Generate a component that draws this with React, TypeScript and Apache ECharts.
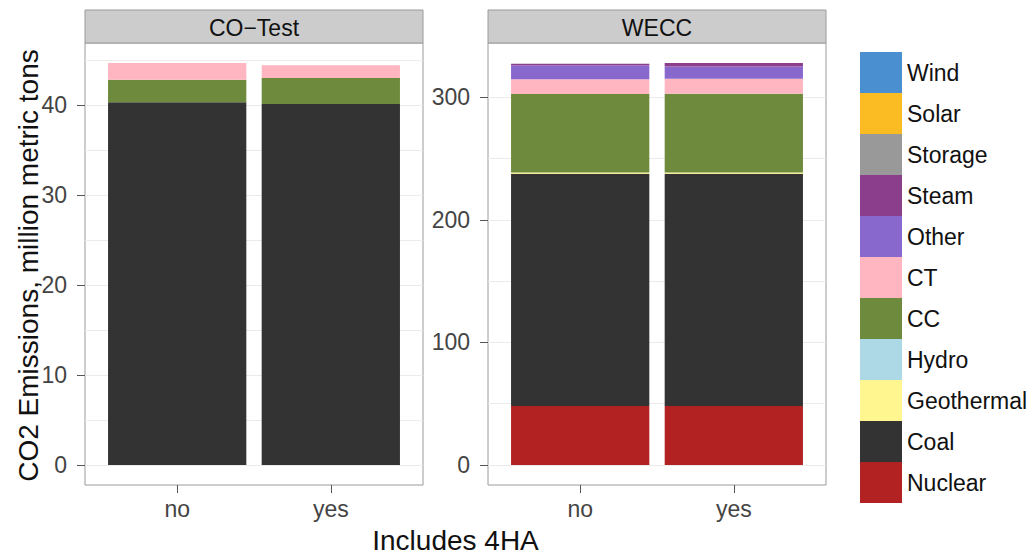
import { useEffect, useRef } from 'react';
import * as echarts from 'echarts';

// Categories on the x axis of each facet
const categories = ['no', 'yes'];
const panelTitles = ['CO\u2212Test', 'WECC'];

// Fuel types in stacking order, bottom to top
const fuels = ['Nuclear', 'Coal', 'Geothermal', 'Hydro', 'CC', 'CT', 'Other', 'Steam', 'Storage', 'Solar', 'Wind'];

const fuelColors: Record<string, string> = {
  Wind: '#4a8fcf',
  Solar: '#fbbb22',
  Storage: '#999999',
  Steam: '#8b3e8b',
  Other: '#8968cd',
  CT: '#ffb6c1',
  CC: '#6e8b3d',
  Hydro: '#add8e6',
  Geothermal: '#fff68f',
  Coal: '#333333',
  Nuclear: '#b22222',
};

// CO2 emissions (million metric tons) for [no, yes]
const coTestNuclear = [0, 0];
const coTestCoal = [40.3, 40.1];
const coTestGeothermal = [0, 0];
const coTestHydro = [0, 0];
const coTestCC = [2.5, 2.9];
const coTestCT = [1.85, 1.4];
const coTestOther = [0, 0];
const coTestSteam = [0, 0];
const coTestStorage = [0, 0];
const coTestSolar = [0, 0];
const coTestWind = [0, 0];

const weccNuclear = [48.1, 48.1];
const weccCoal = [189.6, 189.6];
const weccGeothermal = [0.9, 0.9];
const weccHydro = [0, 0];
const weccCC = [64.1, 64.4];
const weccCT = [12.2, 12.2];
const weccOther = [11.1, 10.0];
const weccSteam = [1.4, 2.8];
const weccStorage = [0, 0];
const weccSolar = [0, 0];
const weccWind = [0, 0];

// Y tick labels per facet
const coTestTicks = [0, 10, 20, 30, 40];
const weccTicks = [0, 100, 200, 300];

const panelData: Record<string, number[]>[] = [
  {
    Nuclear: coTestNuclear, Coal: coTestCoal, Geothermal: coTestGeothermal, Hydro: coTestHydro,
    CC: coTestCC, CT: coTestCT, Other: coTestOther, Steam: coTestSteam,
    Storage: coTestStorage, Solar: coTestSolar, Wind: coTestWind,
  },
  {
    Nuclear: weccNuclear, Coal: weccCoal, Geothermal: weccGeothermal, Hydro: weccHydro,
    CC: weccCC, CT: weccCT, Other: weccOther, Steam: weccSteam,
    Storage: weccStorage, Solar: weccSolar, Wind: weccWind,
  },
];
const panelTicks = [coTestTicks, weccTicks];

const FONT = '"Liberation Sans", Arial, Helvetica, sans-serif';
const PANEL_LEFT = [85, 488];
const PANEL_TOP = 43;
const PANEL_W = 338;
const PANEL_H = 442;
const STRIP_TOP = 10;

function buildOption(): echarts.EChartsOption {
  const extents = panelData.map((d) => {
    const totals = categories.map((_, j) => fuels.reduce((s, f) => s + d[f][j], 0));
    const top = Math.max(...totals);
    const pad = top * 0.05;
    return [-pad, top + pad];
  });

  const grid = panelData.map((_, i) => ({
    left: PANEL_LEFT[i],
    top: PANEL_TOP,
    width: PANEL_W,
    height: PANEL_H,
    show: true,
    backgroundColor: '#ffffff',
    borderColor: '#9a9a9a',
    borderWidth: 1,
  }));

  const catTicks = categories.map((_, j) => j + 1);
  const xAxis = panelData.map((_, i) => ({
    type: 'value' as const,
    gridIndex: i,
    min: 0.4,
    max: categories.length + 0.6,
    minInterval: 1,
    maxInterval: 1,
    axisLine: { show: false, onZero: false },
    axisTick: { show: true, customValues: catTicks, length: 8, lineStyle: { color: '#555' } },
    axisLabel: {
      customValues: catTicks,
      formatter: (v: number) => categories[Math.round(v) - 1] ?? '',
      fontSize: 23,
      fontFamily: FONT,
      color: '#444',
      margin: 12,
    },
    splitLine: { show: true, showMinLine: false, showMaxLine: false, lineStyle: { color: '#e8e8e8', width: 1 } },
  }));

  const yAxis: any[] = [];
  panelData.forEach((_, i) => {
    const ticks = panelTicks[i];
    const major = ticks[1] - ticks[0];
    // grid lines at half steps
    yAxis.push({
      type: 'value',
      gridIndex: i,
      position: 'left',
      min: extents[i][0],
      max: extents[i][1],
      minInterval: major / 2,
      maxInterval: major / 2,
      axisLine: { show: false, onZero: false },
      axisTick: { show: false },
      axisLabel: { show: false },
      splitLine: { show: true, showMinLine: false, showMaxLine: false, lineStyle: { color: '#ebebeb', width: 1 } },
    });
    // labelled ticks
    yAxis.push({
      type: 'value',
      gridIndex: i,
      position: 'left',
      min: extents[i][0],
      max: extents[i][1],
      minInterval: major,
      maxInterval: major,
      axisLine: { show: false, onZero: false },
      axisTick: { show: true, customValues: ticks, length: 8, lineStyle: { color: '#555' } },
      axisLabel: { customValues: ticks, fontSize: 23, fontFamily: FONT, color: '#444', margin: 18 },
      splitLine: { show: false },
    });
  });

  // Each datum is [value, position]; the value column comes first so the stack runs along y.
  const series: any[] = [];
  panelData.forEach((d, i) => {
    fuels.forEach((f) => {
      series.push({
        type: 'bar',
        name: f,
        xAxisIndex: i,
        yAxisIndex: i * 2,
        stack: 'panel' + i,
        barWidth: '90%',
        itemStyle: { color: fuelColors[f] },
        emphasis: { disabled: true },
        encode: { x: 1, y: 0 },
        data: categories.map((_, j) => [d[f][j], j + 1]),
      });
    });
  });

  const graphic: any[] = [];
  panelTitles.forEach((t, i) => {
    graphic.push({
      type: 'rect',
      shape: { x: PANEL_LEFT[i], y: STRIP_TOP, width: PANEL_W, height: PANEL_TOP - STRIP_TOP },
      style: { fill: '#cccccc', stroke: '#9a9a9a', lineWidth: 1 },
    });
    graphic.push({
      type: 'text',
      x: PANEL_LEFT[i] + PANEL_W / 2,
      y: (STRIP_TOP + PANEL_TOP) / 2 + 1,
      style: { text: t, font: `23px ${FONT}`, fill: '#111', align: 'center', verticalAlign: 'middle' },
    });
  });
  graphic.push({
    type: 'text',
    x: (PANEL_LEFT[0] + PANEL_LEFT[1] + PANEL_W) / 2,
    y: 540,
    style: { text: 'Includes 4HA', font: `28px ${FONT}`, fill: '#111', align: 'center', verticalAlign: 'middle' },
  });
  graphic.push({
    type: 'text',
    x: 28,
    y: PANEL_TOP - 20 + (PANEL_H + 20 + 23) / 2,
    rotation: Math.PI / 2,
    style: {
      text: 'CO2 Emissions, million metric tons',
      font: `28px ${FONT}`,
      fill: '#111',
      align: 'center',
      verticalAlign: 'middle',
    },
  });

  return {
    animation: false,
    backgroundColor: '#ffffff',
    grid,
    xAxis,
    yAxis,
    series,
    legend: {
      orient: 'vertical',
      left: 860,
      top: 52,
      padding: 0,
      itemWidth: 42,
      itemHeight: 41,
      itemGap: 0,
      icon: 'rect',
      selectedMode: false,
      data: [...fuels].reverse(),
      textStyle: { fontSize: 23, fontFamily: FONT, color: '#111' },
    },
    graphic,
  };
}

export default function App() {
  const ref = useRef<HTMLDivElement>(null);
  useEffect(() => {
    if (!ref.current) return;
    const chart = echarts.init(ref.current, undefined, { renderer: 'svg' });
    chart.setOption(buildOption());
    return () => chart.dispose();
  }, []);
  return <div ref={ref} style={{ position: 'fixed', left: 0, top: 0, width: 1034, height: 556 }} />;
}
